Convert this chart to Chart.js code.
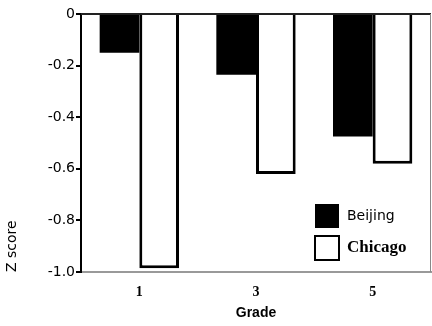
<!DOCTYPE html>
<html lang="en">
<head>
    <meta charset="UTF-8">
    <script src="https://cdn.jsdelivr.net/npm/chart.js"></script>
    <title>Z score by grade</title>
    <style>
        body { margin: 0; background: #fff; }
    </style>
</head>
<body>
    <canvas id="zChart" width="432" height="326"></canvas>

    <script>
    const grades = ['1', '3', '5'];
    const beijing = [-0.15, -0.235, -0.475];
    const chicago = [-0.985, -0.62, -0.58];
    const yTicks = [0, -0.2, -0.4, -0.6, -0.8, -1.0];

    // zero line on top and the right frame line
    const frame = {
        id: 'frame',
        afterDatasetsDraw(chart) {
            const {ctx, chartArea: a, scales} = chart;
            const y0 = scales.y.getPixelForValue(0);
            ctx.save();
            ctx.strokeStyle = '#222';
            ctx.lineWidth = 2;
            ctx.beginPath();
            ctx.moveTo(a.left, y0);
            ctx.lineTo(a.right, y0);
            ctx.stroke();
            ctx.strokeStyle = '#888';
            ctx.lineWidth = 1;
            ctx.beginPath();
            ctx.moveTo(a.right - 0.5, y0);
            ctx.lineTo(a.right - 0.5, a.bottom);
            ctx.stroke();
            ctx.restore();
        }
    };

    // legend drawn in the lower right corner of the plot
    const boxLegend = {
        id: 'boxLegend',
        afterDraw(chart) {
            const {ctx, chartArea: a} = chart;
            const x = a.right - 115;
            const fonts = ['14px "DejaVu Sans"', 'bold 17px "Liberation Serif"'];
            ctx.save();
            chart.data.datasets.forEach((ds, i) => {
                const y = a.bottom - 67 + i * 31;
                const s = 22 + i * 2;
                ctx.fillStyle = ds.backgroundColor;
                ctx.fillRect(x - i, y, s, s);
                ctx.strokeStyle = '#000';
                ctx.lineWidth = 2;
                ctx.strokeRect(x - i, y, s, s);
                ctx.fillStyle = '#000';
                ctx.font = fonts[i];
                ctx.textBaseline = 'middle';
                ctx.fillText(ds.label, x + 31, y + s / 2);
            });
            ctx.restore();
        }
    };

    new Chart(document.getElementById('zChart'), {
        type: 'bar',
        data: {
            labels: grades,
            datasets: [{
                label: 'Beijing',
                data: beijing,
                backgroundColor: '#000',
                borderColor: '#000',
                borderWidth: 0
            }, {
                label: 'Chicago',
                data: chicago,
                backgroundColor: '#fff',
                borderColor: '#000',
                borderWidth: 3
            }]
        },
        options: {
            responsive: false,
            animation: false,
            layout: { padding: { top: 14, right: 1, left: 0, bottom: 0 } },
            categoryPercentage: 0.68,
            barPercentage: 1.0,
            plugins: {
                legend: { display: false },
                tooltip: { enabled: false }
            },
            scales: {
                x: {
                    grid: { display: false },
                    border: { color: '#999', width: 2 },
                    ticks: {
                        color: '#000',
                        font: { family: 'Liberation Serif', size: 14, weight: 'bold' },
                        padding: 4
                    },
                    title: {
                        display: true,
                        text: 'Grade',
                        color: '#000',
                        font: { family: 'Liberation Sans', size: 14, weight: 'bold' },
                        padding: { top: 2 }
                    },
                    afterFit(s) { s.height = 54; }
                },
                y: {
                    min: -1,
                    max: 0,
                    afterBuildTicks(s) { s.ticks = yTicks.map(v => ({value: v})); },
                    grid: { display: true, drawOnChartArea: false, tickLength: 5, color: '#000', lineWidth: 2 },
                    border: { color: '#000', width: 2 },
                    ticks: {
                        color: '#000',
                        font: { family: 'DejaVu Sans', size: 14 },
                        padding: 1,
                        callback: v => v === 0 ? '0' : v.toFixed(1)
                    },
                    title: {
                        display: true,
                        text: 'Z score',
                        align: 'start',
                        color: '#000',
                        font: { family: 'DejaVu Sans', size: 14 },
                        padding: { bottom: 2 }
                    },
                    afterFit(s) { s.width = 81; }
                }
            }
        },
        plugins: [frame, boxLegend]
    });
    </script>
</body>
</html>
